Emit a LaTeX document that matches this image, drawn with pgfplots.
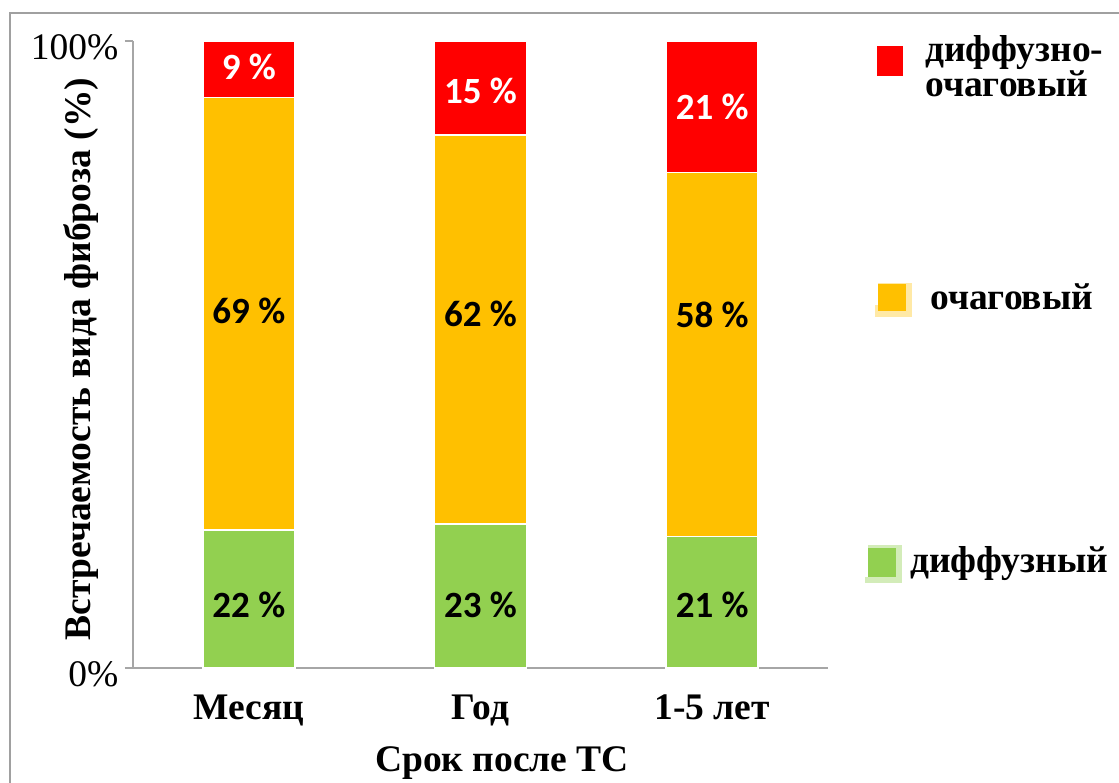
\documentclass[border=0pt]{standalone}
\usepackage{fontspec}
\setmainfont{Liberation Serif}
\newfontfamily\barfont{Carlito}
\usepackage{pgfplots}
\pgfplotsset{compat=1.18}

\definecolor{cRed}{HTML}{FF0000}
\definecolor{cOrange}{HTML}{FFC000}
\definecolor{cGreen}{HTML}{92D050}
\definecolor{axisGray}{HTML}{A6A6A6}
\definecolor{frameGray}{HTML}{A0A0A0}

\newcommand{\chartsize}{\fontsize{37.5}{40}\selectfont}
\newcommand{\barlab}{\barfont\bfseries\fontsize{37}{40}\selectfont}

\begin{document}
\begin{tikzpicture}[x=1pt,y=1pt]
\path[use as bounding box] (0,0) rectangle (1119,783);
\fill[white] (0,0) rectangle (1119,783);
% outer frame
\draw[frameGray, line width=2pt] (10,0) -- (10,770) -- (1119,770);

\begin{axis}[
  at={(133pt,115pt)}, anchor=south west,
  scale only axis, width=695pt, height=627pt,
  xmin=-0.5, xmax=2.5, ymin=0, ymax=100,
  ybar stacked, bar width=92pt,
  axis lines=left,
  axis line style={-, draw=axisGray, line width=2pt},
  xtick={0,1,2}, xticklabels={Месяц,Год,1-5 лет},
  ytick={0,100}, yticklabels={0\%,100\%},
  major tick length=8pt, tick align=outside,
  xtick style={draw=none},
  ytick style={draw=axisGray, line width=1.5pt},
  xticklabel style={font=\bfseries\chartsize, anchor=base, yshift=-44pt},
  yticklabel style={font=\chartsize, anchor=base east, xshift=-3pt, yshift=-19pt},
  clip=false,
]
\addplot[fill=cGreen, draw=white, line width=1.5pt] coordinates {(0,22) (1,23) (2,21)};
\addplot[fill=cOrange, draw=white, line width=1.5pt] coordinates {(0,69) (1,62) (2,58)};
\addplot[fill=cRed, draw=white, line width=1.5pt] coordinates {(0,9) (1,15) (2,21)};

% anchor points for the segment value labels
\coordinate (g0) at (axis cs:0,8.1);
\coordinate (g1) at (axis cs:1,8.1);
\coordinate (g2) at (axis cs:2,8.1);
\coordinate (o0) at (axis cs:0,55.0);
\coordinate (o1) at (axis cs:1,54.5);
\coordinate (o2) at (axis cs:2,54.3);
\coordinate (r0) at (axis cs:0,93.8);
\coordinate (r1) at (axis cs:1,90.1);
\coordinate (r2) at (axis cs:2,87.4);
\end{axis}

% segment value labels
\node[font=\barlab, anchor=base] at (g0) {22 \%};
\node[font=\barlab, anchor=base] at (g1) {23 \%};
\node[font=\barlab, anchor=base] at (g2) {21 \%};
\node[font=\barlab, anchor=base] at (o0) {69 \%};
\node[font=\barlab, anchor=base] at (o1) {62 \%};
\node[font=\barlab, anchor=base] at (o2) {58 \%};
\node[font=\barlab, anchor=base, text=white] at (r0) {9 \%};
\node[font=\barlab, anchor=base, text=white] at (r1) {15 \%};
\node[font=\barlab, anchor=base, text=white] at (r2) {21 \%};

% axis titles
\node[font=\bfseries\chartsize, rotate=90, anchor=base] at (90,424) {Встречаемость вида фиброза (\%)};
\node[font=\bfseries\chartsize, anchor=base] at (502,11) {Срок после ТС};

% legend
\fill[cRed] (877,707) rectangle (903,737);
\node[font=\bfseries\fontsize{37.5}{31.5}\selectfont, anchor=base west, inner sep=0pt, align=left]
  at (925,686.5) {диффузно-\\очаговый};

\fill[cOrange!35] (878,472) rectangle (912,500);
\fill[cOrange!35] (875,466) rectangle (912,478);
\fill[cOrange] (878,472) rectangle (906,499);
\node[font=\bfseries\chartsize, anchor=base west, inner sep=0pt] at (930,473) {очаговый};

\fill[cGreen!40] (868,200) rectangle (902,238);
\fill[cGreen!40] (865,200) rectangle (902,206);
\fill[cGreen] (868,206) rectangle (896,235);
\node[font=\bfseries\chartsize, anchor=base west, inner sep=0pt] at (910,210) {диффузный};
\end{tikzpicture}
\end{document}
